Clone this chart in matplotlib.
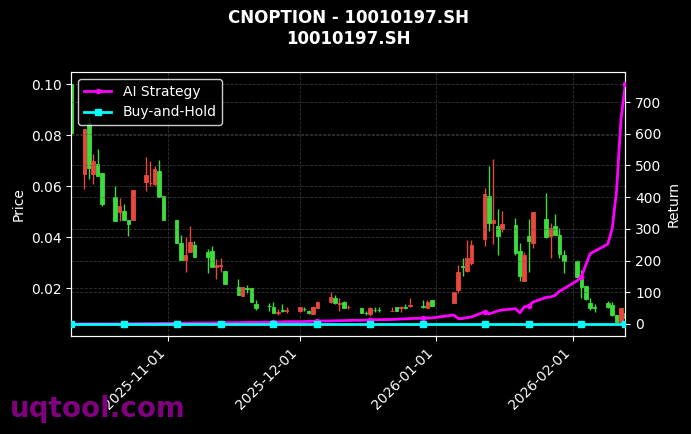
import numpy as np
import pandas as pd
import matplotlib
matplotlib.use("Agg")
import matplotlib.pyplot as plt
import matplotlib.dates as mdates

# Handelstage (Wochenenden und Neujahr 2026 ausgenommen)
dates = pd.bdate_range("2025-10-10", "2026-02-13")
dates = dates[~dates.isin(pd.to_datetime(["2026-01-01", "2026-01-02"]))]

# Kerzen: Farbe G=steigend, R=fallend; Körper oben/unten, Hoch, Tief
candle_dir = list("GRGRGGGRGGRRRRGGGGRRGGGRRGGRGGGGGRGRRGGRRRGRGRGGRGGRGRGRGRGRRGRRRGRGRGGRGRGRGGGGGGGGGGGRG")
body_top = [0.1000, 0.0823, 0.0849, 0.0698, 0.0688, 0.0653, 0.0557, 0.0521, 0.0502, 0.0466,
            0.0583, 0.0642, 0.0614, 0.0668, 0.0659, 0.0561, 0.0469, 0.0377, 0.0331, 0.0380,
            0.0370, 0.0340, 0.0347, 0.0289, 0.0292, 0.0269, 0.0204, 0.0204, 0.0200, 0.0200,
            0.0138, 0.0131, 0.0128, 0.0108, 0.0115, 0.0114, 0.0125, 0.0119, 0.0111, 0.0128,
            0.0145, 0.0167, 0.0161, 0.0141, 0.0145, 0.0127, 0.0121, 0.0104, 0.0121, 0.0116,
            0.0116, 0.0112, 0.0125, 0.0125, 0.0125, 0.0133, 0.0130, 0.0145, 0.0154, 0.0187,
            0.0265, 0.0286, 0.0318, 0.0370, 0.0571, 0.0563, 0.0469, 0.0445, 0.0453, 0.0449,
            0.0344, 0.0331, 0.0403, 0.0497, 0.0472, 0.0436, 0.0445, 0.0410, 0.0331, 0.0307,
            0.0246, 0.0209, 0.0141, 0.0125, 0.0141, 0.0134, 0.0095, 0.0121, 0.0103]
body_bot = [0.0810, 0.0649, 0.0672, 0.0646, 0.0639, 0.0528, 0.0462, 0.0498, 0.0469, 0.0453,
            0.0466, 0.0616, 0.0612, 0.0607, 0.0557, 0.0466, 0.0377, 0.0311, 0.0311, 0.0340,
            0.0324, 0.0322, 0.0285, 0.0284, 0.0288, 0.0217, 0.0174, 0.0171, 0.0196, 0.0147,
            0.0121, 0.0129, 0.0102, 0.0104, 0.0112, 0.0112, 0.0112, 0.0117, 0.0104, 0.0099,
            0.0124, 0.0145, 0.0141, 0.0137, 0.0121, 0.0125, 0.0102, 0.0102, 0.0099, 0.0114,
            0.0114, 0.0110, 0.0111, 0.0123, 0.0123, 0.0131, 0.0128, 0.0121, 0.0131, 0.0141,
            0.0193, 0.0282, 0.0268, 0.0298, 0.0393, 0.0456, 0.0456, 0.0406, 0.0430, 0.0338,
            0.0248, 0.0230, 0.0383, 0.0378, 0.0401, 0.0406, 0.0410, 0.0335, 0.0305, 0.0243,
            0.0206, 0.0157, 0.0121, 0.0123, 0.0125, 0.0095, 0.0069, 0.0069, 0.0083]
high = [0.1000, 0.0823, 0.0870, 0.0725, 0.0747, 0.0653, 0.0600, 0.0554, 0.0528, 0.0466,
        0.0583, 0.0716, 0.0698, 0.0680, 0.0702, 0.0561, 0.0469, 0.0410, 0.0400, 0.0443,
        0.0383, 0.0355, 0.0367, 0.0314, 0.0318, 0.0269, 0.0235, 0.0204, 0.0213, 0.0200,
        0.0154, 0.0141, 0.0147, 0.0117, 0.0138, 0.0125, 0.0128, 0.0125, 0.0115, 0.0130,
        0.0148, 0.0184, 0.0174, 0.0161, 0.0148, 0.0134, 0.0121, 0.0112, 0.0128, 0.0125,
        0.0125, 0.0127, 0.0125, 0.0131, 0.0137, 0.0161, 0.0154, 0.0154, 0.0154, 0.0187,
        0.0292, 0.0318, 0.0390, 0.0390, 0.0594, 0.0679, 0.0708, 0.0511, 0.0502, 0.0476,
        0.0377, 0.0343, 0.0472, 0.0497, 0.0574, 0.0456, 0.0489, 0.0436, 0.0350, 0.0310,
        0.0272, 0.0209, 0.0160, 0.0138, 0.0150, 0.0145, 0.0095, 0.0121, 0.0103]
low = [0.0810, 0.0587, 0.0626, 0.0607, 0.0639, 0.0521, 0.0462, 0.0462, 0.0469, 0.0403,
       0.0466, 0.0580, 0.0600, 0.0600, 0.0557, 0.0466, 0.0377, 0.0311, 0.0265, 0.0340,
       0.0324, 0.0261, 0.0285, 0.0235, 0.0265, 0.0215, 0.0174, 0.0168, 0.0183, 0.0147,
       0.0115, 0.0112, 0.0102, 0.0095, 0.0108, 0.0102, 0.0108, 0.0110, 0.0099, 0.0099,
       0.0124, 0.0141, 0.0137, 0.0112, 0.0121, 0.0118, 0.0102, 0.0095, 0.0093, 0.0105,
       0.0105, 0.0110, 0.0111, 0.0107, 0.0117, 0.0128, 0.0121, 0.0121, 0.0131, 0.0141,
       0.0183, 0.0246, 0.0265, 0.0290, 0.0367, 0.0423, 0.0374, 0.0331, 0.0419, 0.0331,
       0.0230, 0.0230, 0.0265, 0.0357, 0.0397, 0.0318, 0.0410, 0.0320, 0.0260, 0.0240,
       0.0161, 0.0155, 0.0115, 0.0108, 0.0122, 0.0093, 0.0069, 0.0060, 0.0083]

# Rendite (%)
ai_return = [0, 0, 0, 0, 0, 0, 0, 0, 0.5, 0.5, 0.5, 1, 1, 1, 1.5, 1.5,
             2, 2, 2.5, 2.5, 3, 3, 3, 3.5, 3.5, 4, 4, 4.5, 5, 5, 5, 5.5, 6, 6, 6.5, 7,
             7, 7.5, 8, 8.5, 9, 9.5, 10, 10, 10.5, 11, 11.5, 12, 12.5, 13, 13.5, 14,
             15, 15.5, 16, 17, 18, 18.5, 19,
             28, 17, 17, 20, 22, 38, 32, 36, 41, 44, 48, 35, 54, 57, 69, 84, 85, 90,
             103, 111, 136, 148, 186, 222, 229, 252, 300, 420, 645, 757]
bh_return = [0] * len(dates)

# Kerzenfarben aus Open/Close
opens = [b if d == "G" else t for d, t, b in zip(candle_dir, body_top, body_bot)]
closes = [t if d == "G" else b for d, t, b in zip(candle_dir, body_top, body_bot)]
up_color = "#3ddc3d"
down_color = "#e8473d"
colors = [up_color if c >= o else down_color for o, c in zip(opens, closes)]

x = mdates.date2num(dates.to_pydatetime())

plt.rcParams["font.family"] = "DejaVu Sans"
fig = plt.figure(figsize=(6.91, 4.34), dpi=100, facecolor="black")
ax = fig.add_subplot(111)
fig.subplots_adjust(left=0.103, right=0.905, top=0.834, bottom=0.226)
ax.set_facecolor("black")

ax.vlines(x, low, high, colors=colors, linewidth=1, zorder=2)
bottoms = np.minimum(opens, closes)
heights = np.abs(np.array(closes) - np.array(opens))
ax.bar(x, heights, bottom=bottoms, width=0.8, color=colors, edgecolor=colors,
       linewidth=0.6, zorder=3)

ax2 = ax.twinx()
ax2.plot(x, ai_return, color="#ff00ff", linewidth=2, marker="o", markersize=3,
         markevery=8, label="AI Strategy", zorder=4)
ax2.plot(x, bh_return, color="#00ffff", linewidth=2, marker="s", markersize=4,
         markevery=8, label="Buy-and-Hold", zorder=5)

ax.set_xlim(x[0], x[-1])
ax.xaxis.set_major_locator(mdates.MonthLocator())
ax.xaxis.set_major_formatter(mdates.DateFormatter("%Y-%m-%d"))
plt.setp(ax.get_xticklabels(), rotation=45, ha="right")

for a in (ax, ax2):
    a.tick_params(colors="white", labelcolor="white")
    for sp in a.spines.values():
        sp.set_color("white")
    a.grid(True, linestyle="--", color="#555555", linewidth=0.6, alpha=0.6)

ax.set_ylabel("Price", color="white")
ax2.set_ylabel("Return", color="white")
ax.set_title("CNOPTION - 10010197.SH\n10010197.SH", color="white",
             fontsize=12, fontweight="bold", pad=20)

leg = ax2.legend(loc="upper left", facecolor="black", edgecolor="white", fontsize=10)
for t in leg.get_texts():
    t.set_color("white")

fig.text(0.014, 0.04, "uqtool.com", color="#800080", fontsize=20,
         fontweight="bold", zorder=0)

fig.savefig("out.png", dpi=100, facecolor="black")
plt.close(fig)
